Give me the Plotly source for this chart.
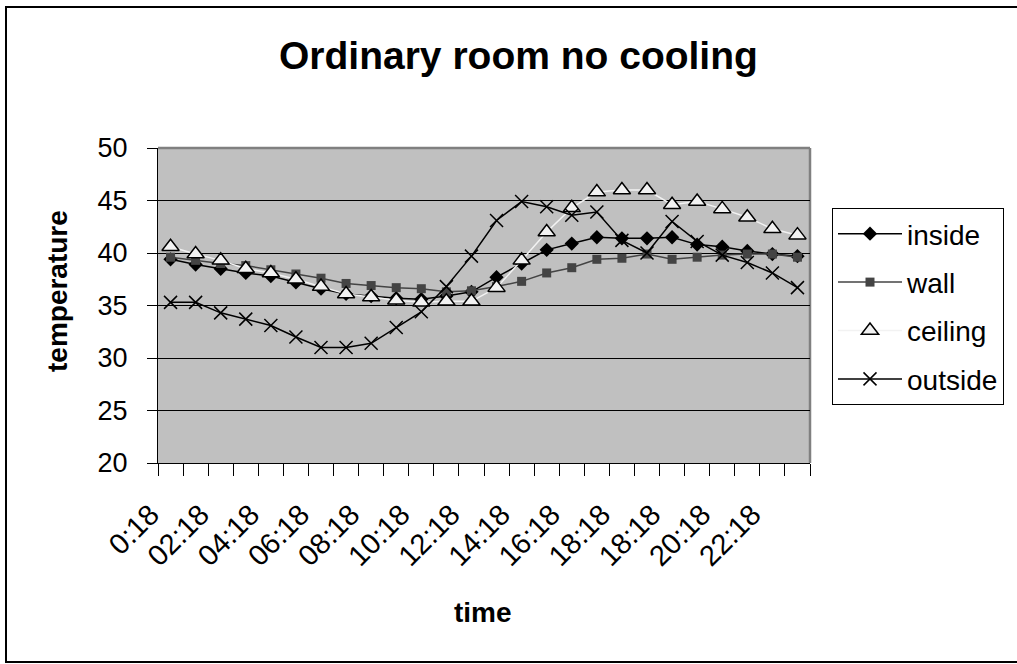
import plotly.graph_objects as go

# ---- data ----
tick_labels = ["0:18", "02:18", "04:18", "06:18", "08:18", "10:18", "12:18",
               "14:18", "16:18", "18:18", "18:18", "20:18", "22:18"]
n_points = 26
x_index = list(range(n_points))

inside = [39.4, 38.9, 38.5, 38.1, 37.8, 37.2, 36.6, 36.1, 35.9, 35.7, 35.6, 35.9, 36.3,
          37.7, 39.0, 40.3, 40.9, 41.5, 41.4, 41.4, 41.5, 40.8, 40.6, 40.2, 39.9, 39.7]
wall = [39.6, 39.3, 39.0, 38.8, 38.4, 38.0, 37.6, 37.1, 36.9, 36.7, 36.6, 36.3, 36.4,
        36.8, 37.3, 38.1, 38.6, 39.4, 39.5, 39.9, 39.4, 39.6, 39.8, 39.9, 39.9, 39.6]
ceiling = [40.6, 39.9, 39.3, 38.5, 38.1, 37.5, 36.8, 36.1, 35.8, 35.5, 35.3, 35.4, 35.4,
           36.7, 39.3, 42.0, 44.3, 45.8, 46.0, 46.0, 44.6, 44.9, 44.2, 43.4, 42.3, 41.7]
outside = [35.3, 35.3, 34.3, 33.7, 33.1, 32.0, 31.0, 31.0, 31.4, 32.9, 34.4, 36.8, 39.7,
           43.1, 44.9, 44.4, 43.6, 43.9, 41.2, 40.0, 43.0, 41.1, 39.8, 39.1, 38.1, 36.7]

FONT = "Liberation Sans, Arial, sans-serif"

fig = go.Figure()
fig.add_trace(go.Scatter(x=x_index, y=inside, name="inside", mode="lines+markers",
                         legendgroup="a",
                         line=dict(color="black", width=1.5),
                         marker=dict(symbol="diamond", size=11, color="black")))
fig.add_trace(go.Scatter(x=x_index, y=wall, name="wall", mode="lines+markers",
                         legendgroup="b",
                         line=dict(color="#444444", width=1.5),
                         marker=dict(symbol="square", size=9, color="#444444")))
fig.add_trace(go.Scatter(x=x_index, y=ceiling, name="ceiling", mode="lines+markers",
                         legendgroup="c",
                         line=dict(color="#f2f2f2", width=1.5),
                         marker=dict(symbol="triangle-up", size=15, color="#f2f2f2",
                                     line=dict(color="black", width=1.5))))
fig.add_trace(go.Scatter(x=x_index, y=outside, name="outside", mode="lines+markers",
                         legendgroup="d",
                         line=dict(color="black", width=1.5),
                         marker=dict(symbol="x-thin-open", size=13, color="black",
                                     line=dict(color="black", width=1.5))))

L, R, T, B = 158, 810, 148, 463
W, H = 1017, 664
pw, ph = R - L, B - T

def px(xp):
    return (xp - L) / pw

def py(yp):
    return (B - yp) / ph

fig.update_layout(
    width=W, height=H,
    margin=dict(l=L, r=W - R, t=T, b=H - B),
    paper_bgcolor="white",
    plot_bgcolor="#c0c0c0",
    font=dict(family=FONT, color="black", size=26),
    showlegend=True,
    legend=dict(x=px(832), xanchor="left", y=py(208), yanchor="top",
                bgcolor="white", bordercolor="black", borderwidth=1,
                font=dict(size=28, family=FONT), traceorder="grouped",
                tracegroupgap=9, itemwidth=64),
    xaxis=dict(range=[-0.5, n_points - 0.5], showgrid=False, zeroline=False,
               showline=True, linecolor="black", linewidth=1,
               tickmode="array", tickvals=x_index[::2], ticktext=tick_labels,
               ticks="", tickangle=-45, ticklabelstandoff=22, ticklabelshift=-20,
               tickfont=dict(size=29),
               minor=dict(ticks="outside", ticklen=12, tickcolor="black",
                          tickmode="array",
                          tickvals=[i - 0.5 for i in range(n_points + 1)],
                          showgrid=False)),
    yaxis=dict(range=[20, 50], tickmode="array", tickvals=[20, 25, 30, 35, 40, 45, 50],
               showgrid=True, gridcolor="black", gridwidth=1, zeroline=False,
               showline=True, linecolor="black", linewidth=1,
               ticks="outside", ticklen=10, tickcolor="black",
               ticklabelstandoff=14, tickfont=dict(size=27)),
    shapes=[
        dict(type="line", xref="paper", yref="paper", x0=0, x1=1, y0=1, y1=1,
             line=dict(color="#808080", width=2.5), layer="between"),
        dict(type="line", xref="paper", yref="paper", x0=1, x1=1, y0=0, y1=1,
             line=dict(color="#808080", width=2.5), layer="between"),
        dict(type="rect", xref="paper", yref="paper",
             x0=px(6), x1=px(1030), y0=py(662), y1=py(7),
             line=dict(color="black", width=2), layer="below"),
    ],
    annotations=[
        dict(text="<b>Ordinary room no cooling</b>", xref="paper", yref="paper",
             x=px(518), y=py(56), xanchor="center", yanchor="middle",
             showarrow=False, font=dict(size=39, family=FONT)),
        dict(text="<b>time</b>", xref="paper", yref="paper",
             x=px(483), y=py(612), xanchor="center", yanchor="middle",
             showarrow=False, font=dict(size=28, family=FONT)),
        dict(text="<b>temperature</b>", xref="paper", yref="paper",
             x=px(57), y=py(291), xanchor="center", yanchor="middle", textangle=-90,
             showarrow=False, font=dict(size=28, family=FONT)),
    ],
)

fig.write_html("out.html")
